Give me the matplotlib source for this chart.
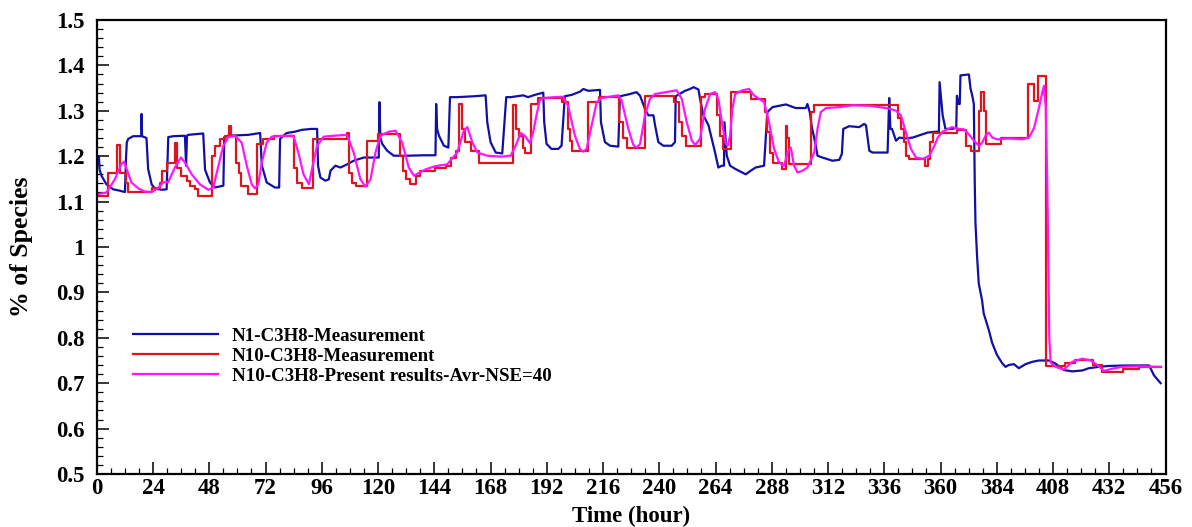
import numpy as np
import matplotlib
matplotlib.use('Agg')
import matplotlib.pyplot as plt
import matplotlib.ticker as ticker

#==============================================================================
# Series data (time in hours, % of species)
#==============================================================================
# N1 measurement
n1_t = [0, 0.9, 1.2, 2, 4.1, 7, 9.8, 12, 12.5, 12.8, 13.4, 15.5, 19.0, 19.1, 19.3,
        21.2, 21.9, 23.4, 24.8, 27.6, 29.8, 30.5, 32.6, 37.6, 38.1, 38.5, 39, 45.4,
        46.2, 48.3, 50.4, 54, 54.4, 56.1, 64.7, 69.7, 70.4, 72.5, 76, 77.8, 78.2,
        79.6, 81, 84.6, 87.5, 91.5, 94, 94.4, 95.4, 97.5, 99, 99.7, 101.8, 104,
        106.8, 109.6, 113.9, 120.3, 120.6, 121, 121.8, 123.9, 126.7, 132.4, 139.6,
        144.5, 144.8, 145.2, 146, 148.1, 150, 150.7, 153.8, 161, 165.9, 166.6, 168,
        170.2, 173, 174.7, 176.6, 182, 184, 186.9, 190.5, 190.9, 191.9, 194, 196.9,
        198.3, 199.7, 202.6, 206.1, 207.6, 209.7, 214.7, 215.1, 216.8, 219, 222.5,
        223.2, 226.8, 230.3, 231.8, 233.9, 235.3, 237.5, 238.2, 239.6, 241.7, 245.3,
        246.7, 247, 251, 253.1, 254.6, 256.7, 257.4, 258.8, 261, 262.4, 263.8, 265.2,
        266.7, 267.6, 267.8, 268.8, 270.2, 272.4, 274.7, 276.9, 279, 281.1, 284.7,
        286.1, 288.3, 294, 298.2, 302.5, 303.2, 304.2, 305.1, 306.8, 307.5, 309.6,
        313.9, 316.8, 317.9, 318.5, 321, 325.3, 327.4, 328.2, 329.6, 331, 337.4,
        338.1, 338.6, 339.3, 341, 342.4, 345.2, 348.1, 351, 354.5, 358.1, 359.3,
        359.6, 360.9, 362.1, 364.9, 366.7, 367, 367.6, 368.2, 368.5, 372.1, 372.8,
        373.5, 374.2, 374.6, 374.9, 375.6, 376.3, 377.7, 378.4, 380.6, 382, 384.1,
        386.3, 387.7, 389.1, 391.3, 393.4, 396.3, 399.1, 402, 406.2, 409.1, 412.6,
        416.2, 420.5, 423.3, 427.6, 431.9, 439, 446.1, 449, 451.1, 453.9]
n1_v = [1.18, 1.20, 1.17, 1.157, 1.138, 1.127, 1.124, 1.121, 1.20, 1.23, 1.238, 1.244,
        1.244, 1.293, 1.244, 1.24, 1.172, 1.138, 1.129, 1.126, 1.127, 1.242, 1.244,
        1.245, 1.179, 1.245, 1.247, 1.25, 1.17, 1.142, 1.131, 1.135, 1.242, 1.245,
        1.247, 1.251, 1.18, 1.142, 1.131, 1.131, 1.238, 1.245, 1.251, 1.254, 1.258,
        1.26, 1.26, 1.179, 1.153, 1.146, 1.149, 1.168, 1.179, 1.175, 1.182, 1.19,
        1.197, 1.197, 1.319, 1.24, 1.227, 1.212, 1.201, 1.201, 1.202, 1.202, 1.315,
        1.26, 1.245, 1.223, 1.219, 1.33, 1.33, 1.332, 1.334, 1.275, 1.231, 1.208,
        1.206, 1.33, 1.33, 1.334, 1.33, 1.335, 1.34, 1.275, 1.227, 1.216, 1.216,
        1.223, 1.332, 1.335, 1.342, 1.348, 1.344, 1.346, 1.275, 1.231, 1.223, 1.221,
        1.332, 1.336, 1.341, 1.333, 1.304, 1.29, 1.29, 1.268, 1.231, 1.223, 1.223,
        1.231, 1.332, 1.344, 1.348, 1.352, 1.347, 1.326, 1.29, 1.268, 1.238, 1.208,
        1.175, 1.179, 1.179, 1.275, 1.201, 1.179, 1.172, 1.166, 1.16, 1.168, 1.175,
        1.179, 1.297, 1.308, 1.314, 1.306, 1.306, 1.315, 1.297, 1.264, 1.223, 1.201,
        1.197, 1.19, 1.192, 1.205, 1.26, 1.266, 1.264, 1.271, 1.268, 1.212, 1.208,
        1.208, 1.328, 1.26, 1.26, 1.234, 1.241, 1.239, 1.241, 1.246, 1.252, 1.254,
        1.254, 1.363, 1.29, 1.26, 1.26, 1.262, 1.333, 1.315, 1.315, 1.378, 1.38,
        1.349, 1.334, 1.315, 1.141, 1.053, 0.978, 0.92, 0.883, 0.854, 0.817, 0.789,
        0.762, 0.744, 0.736, 0.74, 0.742, 0.733, 0.742, 0.747, 0.75, 0.75, 0.743,
        0.729, 0.726, 0.728, 0.733, 0.736, 0.738, 0.739, 0.739, 0.739, 0.717, 0.70]

# N10 measurement (step changes: start time, level)
n10_t = [0, 4.6, 8.8, 10, 12.3, 13.4, 23.5, 27, 28, 30, 33.2, 34.2, 36, 38.3, 39.7,
         41.7, 43.3, 49, 50.4, 52.6, 54.7, 56.3, 57.4, 59.5, 60.5, 61.7, 64.4, 68.5,
         71, 75.4, 84, 85.4, 87.5, 92.3, 106.8, 107.8, 108.9, 110.4, 115.3, 120,
         129.3, 130.7, 132.1, 133.6, 136.4, 138.1, 144.5, 148.8, 151.2, 153.4, 154.7,
         155.7, 156.9, 159.5, 163.1, 177.6, 178.7, 180.2, 181.9, 182.9, 185.2, 188.3,
         198.6, 200.9, 201.9, 202.9, 209.7, 214.2, 222.9, 224.6, 226.2, 233.9, 246.3,
         248.4, 249.9, 251.3, 257.8, 259.5, 264.5, 266, 267.1, 270.7, 279, 285.1,
         286.1, 287.3, 288.6, 292.3, 294, 294.7, 295.4, 304.8, 305.8, 342, 343.1,
         344.3, 345.2, 346.4, 353.2, 354.5, 355.6, 356.6, 367.1, 371, 373.2, 376.4,
         377.2, 378.4, 379.2, 386, 397.5, 399.9, 401.6, 405, 413.1, 417.3, 425,
         428.7, 438, 444.7, 454]
n10_v = [1.113, 1.164, 1.225, 1.164, 1.142, 1.121, 1.13, 1.142, 1.168, 1.186, 1.229,
         1.175, 1.157, 1.146, 1.135, 1.128, 1.113, 1.201, 1.223, 1.238, 1.245, 1.266,
         1.245, 1.186, 1.164, 1.135, 1.116, 1.227, 1.238, 1.245, 1.175, 1.142, 1.131,
         1.238, 1.251, 1.164, 1.142, 1.135, 1.234, 1.249, 1.201, 1.168, 1.149, 1.138,
         1.157, 1.168, 1.175, 1.179, 1.197, 1.212, 1.315, 1.26, 1.231, 1.212, 1.186,
         1.312, 1.26, 1.245, 1.219, 1.208, 1.315, 1.328, 1.319, 1.26, 1.234, 1.212,
         1.32, 1.33, 1.275, 1.241, 1.217, 1.333, 1.319, 1.275, 1.245, 1.223, 1.33,
         1.337, 1.29, 1.245, 1.216, 1.341, 1.326, 1.297, 1.253, 1.208, 1.186, 1.172,
         1.267, 1.239, 1.183, 1.297, 1.312, 1.283, 1.26, 1.231, 1.201, 1.194, 1.179,
         1.194, 1.231, 1.252, 1.257, 1.223, 1.212, 1.30, 1.341, 1.30, 1.227, 1.241,
         1.358, 1.322, 1.377, 0.738, 0.745, 0.75, 0.74, 0.725, 0.732, 0.735, 0.735]

# N10 present results
pr_t = [0, 4.1, 7.7, 10.5, 11.7, 12.7, 14.8, 17.7, 20.5, 23.4, 26.2, 28.3, 30.5, 33.3,
        35.9, 37.6, 40.5, 44, 47.6, 49.7, 51.9, 54, 56.1, 59, 61.8, 64, 66.1, 67.5,
        68.9, 70.4, 72.5, 74.6, 80.3, 83.9, 86, 88.2, 90.5, 91.8, 94, 96.8, 101.1,
        106.8, 109.6, 112.5, 114.6, 116.8, 118.9, 121, 124.6, 127.5, 130.3, 133.1,
        135.3, 137.4, 140.3, 144.5, 149.5, 153.8, 156.6, 158.1, 160.2, 162.4, 166.6,
        172.3, 176.6, 178.7, 180.9, 182.6, 184.8, 186.2, 187.6, 189, 190.5, 195.4,
        199, 201.1, 204, 206.1, 207.6, 209, 211.1, 213.3, 215.4, 222.5, 223.9, 226.8,
        228.9, 230.3, 231.8, 233.9, 236, 238.2, 243.9, 247.4, 249.6, 251.7, 253.9,
        255.3, 257.4, 259.5, 261.7, 263.8, 265.2, 266.7, 268.4, 269.2, 270.2, 271.2,
        272.4, 275.4, 278.3, 280.4, 282.6, 284.7, 286.8, 289, 291.1, 293.3, 294.7,
        296.1, 297.5, 299, 301.1, 303.2, 306.1, 307.5, 308.9, 311.1, 316.8, 322.5,
        329.6, 338.1, 341, 343.1, 345.2, 347.4, 349.5, 352.4, 355.2, 357.4, 358.8,
        360.9, 364.9, 367.1, 370, 372.1, 374.2, 376.4, 377.8, 379.2, 380.6, 382.1,
        384.2, 389.2, 394.9, 397.7, 399.9, 402, 403.4, 404.1, 404.9, 405.6, 406.4,
        407, 409.1, 412.6, 416.2, 420.5, 424, 426.9, 429.7, 433.3, 437.6, 443.3,
        453.9]
pr_v = [1.116, 1.12, 1.149, 1.183, 1.188, 1.172, 1.142, 1.129, 1.122, 1.121, 1.13,
        1.142, 1.143, 1.175, 1.197, 1.186, 1.16, 1.138, 1.126, 1.131, 1.179, 1.223,
        1.242, 1.245, 1.23, 1.179, 1.138, 1.129, 1.138, 1.186, 1.23, 1.243, 1.245,
        1.245, 1.208, 1.16, 1.138, 1.171, 1.223, 1.243, 1.245, 1.247, 1.208, 1.149,
        1.133, 1.149, 1.208, 1.245, 1.254, 1.256, 1.23, 1.175, 1.157, 1.163, 1.171,
        1.178, 1.182, 1.208, 1.256, 1.264, 1.231, 1.208, 1.201, 1.199, 1.201, 1.223,
        1.251, 1.245, 1.229, 1.253, 1.29, 1.323, 1.328, 1.33, 1.331, 1.311, 1.245,
        1.216, 1.21, 1.216, 1.267, 1.319, 1.328, 1.334, 1.323, 1.26, 1.225, 1.219,
        1.227, 1.29, 1.326, 1.337, 1.342, 1.345, 1.326, 1.275, 1.234, 1.225, 1.238,
        1.304, 1.337, 1.341, 1.326, 1.275, 1.227, 1.223, 1.245, 1.304, 1.337, 1.345,
        1.348, 1.334, 1.326, 1.319, 1.275, 1.216, 1.186, 1.179, 1.208, 1.219, 1.179,
        1.164, 1.168, 1.175, 1.208, 1.26, 1.297, 1.306, 1.308, 1.312, 1.311, 1.305,
        1.3, 1.29, 1.253, 1.216, 1.197, 1.194, 1.201, 1.223, 1.241, 1.254, 1.264,
        1.261, 1.259, 1.248, 1.234, 1.223, 1.23, 1.245, 1.252, 1.241, 1.237, 1.239,
        1.237, 1.241, 1.262, 1.307, 1.34, 1.355, 1.308, 1.12, 0.80, 0.745, 0.736,
        0.73, 0.747, 0.754, 0.75, 0.74, 0.727, 0.732, 0.736, 0.737, 0.736]

labels = ['N1-C3H8-Measurement', 'N10-C3H8-Measurement',
          'N10-C3H8-Present results-Avr-NSE=40']

#==============================================================================
# Plot
#==============================================================================
plt.rcParams['font.family'] = 'Liberation Serif'
plt.rcParams['font.weight'] = 'bold'

fig = plt.figure(figsize=(11.92, 5.27), dpi=100)
ax = fig.add_axes([0.0812, 0.1006, 0.8966, 0.8615])

ax.plot(n1_t, n1_v, color='#1010a6', linewidth=1.6, label=labels[0])
ax.plot(n10_t, n10_v, color='#e0141c', linewidth=1.6, drawstyle='steps-post',
        label=labels[1])
ax.plot(pr_t, pr_v, color='#ff16ff', linewidth=1.6, label=labels[2])

ax.set_xlim(0, 456)
ax.set_ylim(0.5, 1.5)
ax.xaxis.set_major_locator(ticker.MultipleLocator(24))
ax.xaxis.set_minor_locator(ticker.MultipleLocator(6))
ax.yaxis.set_major_locator(ticker.MultipleLocator(0.1))
ax.yaxis.set_minor_locator(ticker.MultipleLocator(0.02))
ax.yaxis.set_major_formatter(ticker.FormatStrFormatter('%g'))
ax.tick_params(which='major', direction='in', length=8.5, width=1.1,
               labelsize=16.5)
ax.tick_params(axis='x', which='major', pad=3)
ax.tick_params(axis='y', which='major', pad=9)
ax.tick_params(which='minor', direction='in', length=4.5, width=0.9)
for lab in ax.get_xticklabels() + ax.get_yticklabels():
    lab.set_fontweight('bold')
for sp in ax.spines.values():
    sp.set_linewidth(1.6)

ax.set_xlabel('Time (hour)', fontsize=16.5, fontweight='bold', labelpad=5)
ax.set_ylabel('% of Species', fontsize=18.5, fontweight='bold', labelpad=16)

ax.legend(loc='upper left', bbox_to_anchor=(0.018, 0.36), frameon=False,
          handlelength=4.5, handletextpad=0.72, labelspacing=0.15,
          prop={'weight': 'bold', 'size': 13.6})

fig.savefig('out.png', dpi=100)
